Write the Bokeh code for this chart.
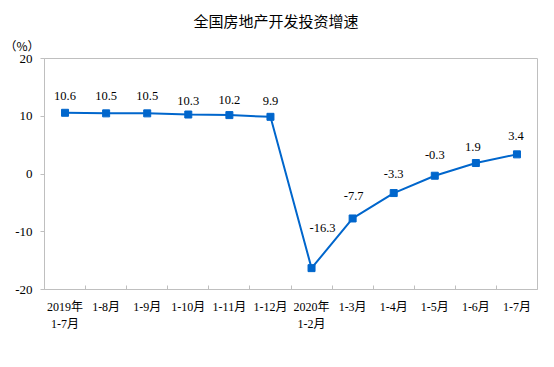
from bokeh.plotting import figure
from bokeh.models import ColumnDataSource, Range1d, FixedTicker, LabelSet, Title
from bokeh.embed import file_html
from bokeh.resources import INLINE

categories = ["2019年\n1-7月", "1-8月", "1-9月", "1-10月", "1-11月", "1-12月",
              "2020年\n1-2月", "1-3月", "1-4月", "1-5月", "1-6月", "1-7月"]
growth = [10.6, 10.5, 10.5, 10.3, 10.2, 9.9, -16.3, -7.7, -3.3, -0.3, 1.9, 3.4]
y_ticks = [-20, -10, 0, 10, 20]
y_tick_labels = ["-20", "-10", "0", "10", "20"]

# label placement (pixels) relative to each point
label_dx = [0, 0, 0, 0, 0, 0, 11, 1, 0, 0, -3, -1]
label_dy = [17, 17, 17, 14, 15, 16, 40, 22, 19, 21, 16, 18]

n = len(categories)
xs = list(range(n))
src = ColumnDataSource(dict(x=xs, y=growth, lab=[f"{v:.1f}" for v in growth],
                            dx=label_dx, dy=label_dy))

BLUE = "#0066CC"
GRAY = "#BFBFBF"

FL, FT, FW, FH = 44, 58, 493, 231
W, H = 546, 359

p = figure(width=W, height=H, frame_width=FW, frame_height=FH,
           min_border_left=FL, min_border_top=FT, min_border_right=W - FL - FW,
           min_border_bottom=H - FT - FH,
           x_range=Range1d(-0.5, n - 0.5), y_range=Range1d(-20, 20),
           output_backend="svg", toolbar_location=None, tools="")
p.background_fill_color = "white"
p.border_fill_color = "white"
p.outline_line_color = GRAY
p.xgrid.grid_line_color = None
p.ygrid.grid_line_color = None

p.line("x", "y", source=src, line_color=BLUE, line_width=2)
p.scatter("x", "y", source=src, marker="square", size=7, fill_color=BLUE, line_color=BLUE)

p.add_layout(LabelSet(x="x", y="y", text="lab", source=src, x_offset="dx", y_offset="dy",
                      text_align="center", text_baseline="middle",
                      text_font="Liberation Sans", text_font_size="12.5px", text_color="black"))

xa = p.xaxis[0]
xa.ticker = FixedTicker(ticks=xs, minor_ticks=[i + 0.5 for i in range(n - 1)])
xa.major_label_overrides = {i: c for i, c in enumerate(categories)}
xa.major_tick_in = 0
xa.major_tick_out = 0
xa.minor_tick_in = 4
xa.minor_tick_out = 0
xa.minor_tick_line_color = GRAY
xa.axis_line_color = GRAY
xa.major_label_standoff = 10
xa.major_label_text_font = "Liberation Serif, Noto Sans CJK SC"
xa.major_label_text_font_size = "12px"
xa.major_label_text_color = "black"
xa.major_label_text_line_height = 1.25

ya = p.yaxis[0]
ya.ticker = FixedTicker(ticks=y_ticks, minor_ticks=[])
ya.major_label_overrides = dict(zip(y_ticks, y_tick_labels))
ya.major_tick_in = 0
ya.major_tick_out = 4
ya.major_tick_line_color = GRAY
ya.minor_tick_line_color = None
ya.axis_line_color = GRAY
ya.major_label_standoff = 8
ya.major_label_text_font = "Liberation Serif"
ya.major_label_text_font_size = "13px"
ya.major_label_text_color = "black"

p.title.text = "全国房地产开发投资增速"
p.title.align = "left"
p.title.offset = 193 - FL
p.title.text_font = "Noto Sans CJK SC"
p.title.text_font_size = "15px"
p.title.text_font_style = "normal"
p.title.text_color = "black"
p.title.standoff = 0

unit = Title(text="（%）", align="left", offset=-40, text_font="Noto Sans CJK SC",
             text_font_size="12px", text_font_style="normal", text_color="black",
             standoff=9)
p.add_layout(unit, "above")

open("out.html", "w").write(file_html(p, INLINE))
